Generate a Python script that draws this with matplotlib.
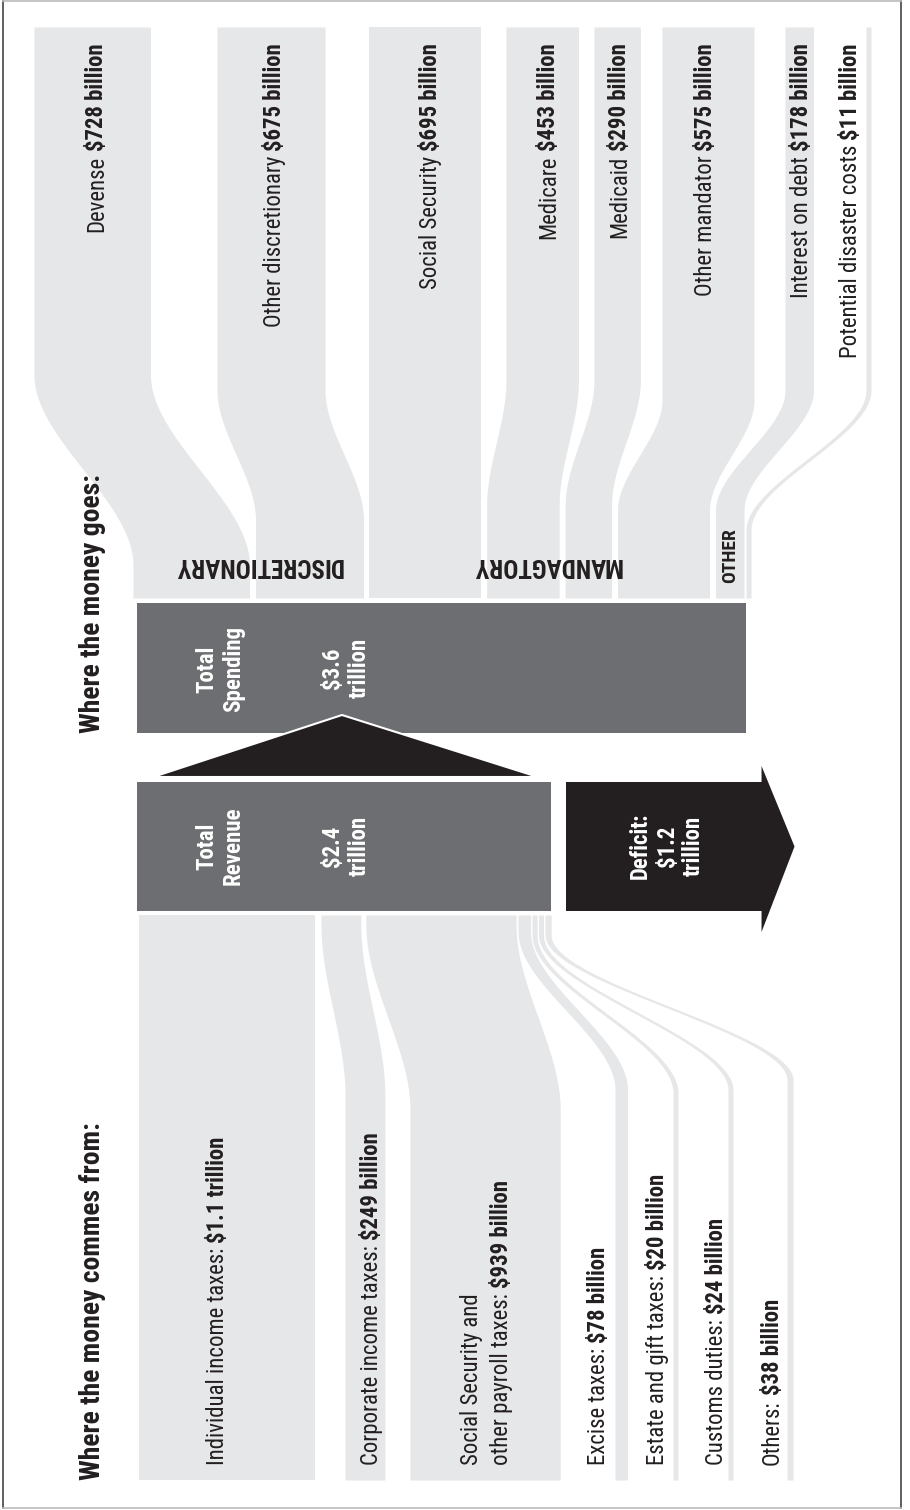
import numpy as np
import matplotlib
matplotlib.use('Agg')
import matplotlib.pyplot as plt
from matplotlib.patches import Rectangle, Polygon

# 数据（十亿美元）
spend_names = ['Devense', 'Other discretionary', 'Social Security', 'Medicare',
               'Medicaid', 'Other mandator', 'Interest on debt',
               'Potential disaster costs']
spend_vals = [728, 675, 695, 453, 290, 575, 178, 11]

rev_names = ['Individual income taxes:', 'Corporate income taxes:',
             'Social Security and\nother payroll taxes:', 'Excise taxes:',
             'Estate and gift taxes:', 'Customs duties:', 'Others:']
rev_vals = [1100, 249, 939, 78, 20, 24, 38]

group_names = ['DISCRETIONARY', 'MANDAGTORY', 'OTHER']

plt.rcParams['font.family'] = ['Roboto Condensed', 'DejaVu Sans']

GRAY = '#e6e7e8'
BAR = '#6d6e71'
BLACK = '#231f20'
DARK = '#231f20'

K_BAND = 0.16   # 像素 / 十亿
K_BAR = 0.169
LAB = 16.4


def money(v):
    if v >= 1000:
        return '$%.1f trillion' % (v / 1000.0)
    return '$%d billion' % v


def width(v):
    return max(K_BAND * v, 5)


def band(ax, xa, xb, w, y0, y1, curve):
    y = np.linspace(y0, y1, 400)
    if curve is None:
        s = np.zeros_like(y)
    else:
        t = np.clip((y - curve[0]) / (curve[1] - curve[0]), 0, 1)
        s = t * t * (3 - 2 * t)
    left = xa + (xb - xa) * s
    ax.fill_betweenx(y, left, left + w, color=GRAY, lw=0)


fig = plt.figure(figsize=(9.1, 15.1), dpi=100)
ax = fig.add_axes([0, 0, 1, 1])
ax.set_xlim(0, 910)
ax.set_ylim(1510, 0)
ax.axis('off')

#************************************************************
# 支出：上方的带
spend_top = [34, 217, None, 506, 594, 662, 785, 866]
spend_gap = [6, 6, 6, 6, 6, 6, 2, 0]
spend_curve = [(375, 565), (390, 520), None, (380, 505), (380, 505),
               (400, 510), (390, 510), (390, 530)]
spend_lx = [103, 281, 437, 555, 626, 712, 808, 857]

xb = 133
for i, v in enumerate(spend_vals):
    w = width(v)
    xa = xb if spend_top[i] is None else spend_top[i]
    band(ax, xa, xb, w, 27, 598, spend_curve[i])
    t = ax.text(spend_lx[i], 43, money(v), rotation=90, rotation_mode='anchor',
                ha='right', va='baseline', fontsize=LAB, fontweight='bold', color=DARK)
    ax.annotate(spend_names[i], xy=(spend_lx[i], 0), xycoords=('data', t),
                xytext=(0, -5), textcoords='offset pixels', rotation=90,
                rotation_mode='anchor', ha='right', va='baseline',
                fontsize=LAB, color=DARK)
    xb += w + spend_gap[i]

#************************************************************
# 收入：下方的带
rev_bot = [None, 345, 410, 615, 673, 728, 787]
rev_gap = [6, 5, 2, 1.5, 1.5, 1.5, 0]
rev_curve = [None, (925, 1095), (925, 1110), (932, 1090), (935, 1093),
             (935, 1090), (935, 1080)]
rev_lx = [224, 378, 508, 605, 664, 723, 779]

xa = 139
for i, v in enumerate(rev_vals):
    w = width(v)
    x1 = xa if rev_bot[i] is None else rev_bot[i]
    band(ax, xa, x1, w, 915, 1480, rev_curve[i])
    lines = rev_names[i].split('\n')
    for j, line in enumerate(lines[:-1]):
        ax.text(rev_lx[i] - 30 * (len(lines) - 1 - j), 1465, line, rotation=90,
                rotation_mode='anchor', ha='left', va='baseline',
                fontsize=LAB, color=DARK)
    t = ax.text(rev_lx[i], 1465, lines[-1], rotation=90, rotation_mode='anchor',
                ha='left', va='baseline', fontsize=LAB, color=DARK)
    ax.annotate(money(v), xy=(rev_lx[i], 1), xycoords=('data', t),
                xytext=(0, 5), textcoords='offset pixels', rotation=90,
                rotation_mode='anchor', ha='left', va='baseline',
                fontsize=LAB, fontweight='bold', color=DARK)
    xa += w + rev_gap[i]

#************************************************************
# 总额柱与赤字箭头
rev_total = sum(rev_vals)
spend_total = sum(spend_vals)
deficit = spend_total - rev_total

ax.add_patch(Rectangle((137, 603), K_BAR * spend_total, 130, color=BAR, lw=0))
ax.add_patch(Rectangle((137, 782), K_BAR * rev_total, 129, color=BAR, lw=0))
ax.add_patch(Polygon([(153, 777), (342, 715), (538, 777)], closed=True,
                     fc=BLACK, ec='white', lw=1.5, zorder=3))

dx0 = 566
dx1 = dx0 + K_BAR * deficit
ax.add_patch(Polygon([(dx0, 782), (dx1, 782), (dx1, 766), (dx1 + 33, 846.5),
                      (dx1, 932), (dx1, 911), (dx0, 911)], closed=True,
                     fc=BLACK, lw=0))


def short(v):
    return '$%.1f\ntrillion' % (v / 1000.0)


BT = 16.5
ax.text(220, 669, 'Total\nSpending', rotation=90, ha='center', va='center',
        ma='center', color='white', fontweight='bold', fontsize=BT, zorder=4)
ax.text(346, 668, short(spend_total), rotation=90, ha='center', va='center',
        ma='center', color='white', fontweight='bold', fontsize=BT, zorder=4)
ax.text(220, 846, 'Total\nRevenue', rotation=90, ha='center', va='center',
        ma='center', color='white', fontweight='bold', fontsize=BT, zorder=4)
ax.text(346, 846, short(rev_total), rotation=90, ha='center', va='center',
        ma='center', color='white', fontweight='bold', fontsize=BT, zorder=4)
ax.text(667, 846, 'Deficit:\n' + short(deficit), rotation=90, ha='center',
        va='center', ma='center', color='white', fontweight='bold',
        fontsize=BT, zorder=4)

# 分组标签
ax.text(258, 565, group_names[0], rotation=180, ha='center', va='center',
        fontsize=18, fontweight='bold', color=DARK)
ax.text(547, 565, group_names[1], rotation=180, ha='center', va='center',
        fontsize=18, fontweight='bold', color=DARK)
ax.text(730, 556, group_names[2], rotation=90, ha='center', va='center',
        fontsize=14, fontweight='bold', color=DARK)

# 标题
ax.text(100, 733, 'Where the money goes:', rotation=90, rotation_mode='anchor',
        ha='left', va='baseline', fontsize=20, fontweight='bold', color=DARK)
ax.text(100, 1480, 'Where the money commes from:', rotation=90,
        rotation_mode='anchor', ha='left', va='baseline', fontsize=20,
        fontweight='bold', color=DARK)

# 边框
ax.plot([2.5, 2.5], [1, 1508], color='#444444', lw=1.2)
ax.plot([901, 901], [1, 1508], color='#444444', lw=1.2)
ax.plot([2.5, 901], [1, 1], color='#bbbbbb', lw=1.2)
ax.plot([2.5, 901], [1508, 1508], color='#bbbbbb', lw=1.2)

fig.savefig('out.png', dpi=100)
